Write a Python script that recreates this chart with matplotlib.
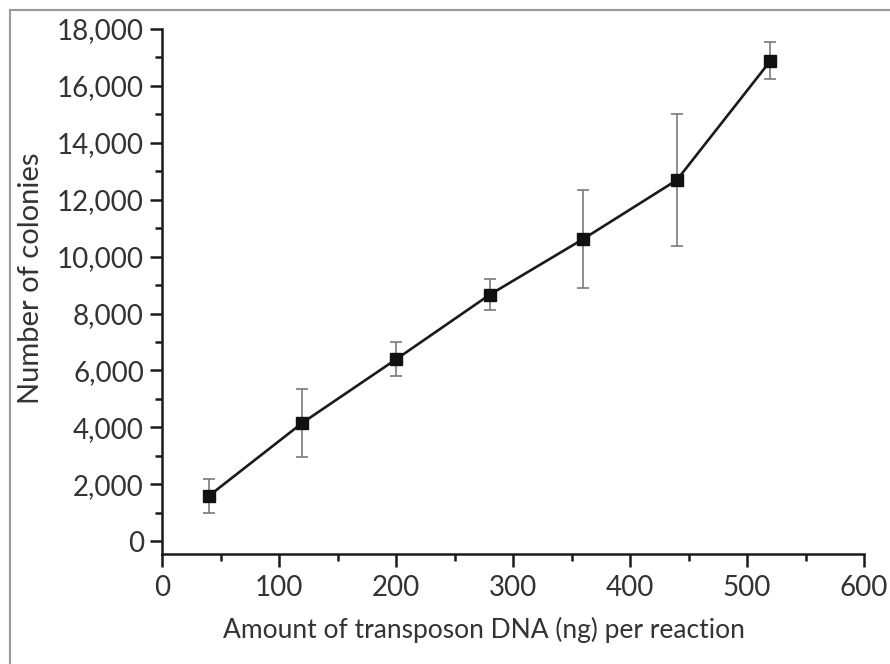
import matplotlib
matplotlib.use("Agg")
import matplotlib.pyplot as plt
from matplotlib.ticker import MultipleLocator, FuncFormatter
from matplotlib.lines import Line2D

plt.rcParams['font.family'] = ['Lato', 'DejaVu Sans']

dna_ng = [40, 120, 200, 280, 360, 440, 520]
colonies = [1590, 4160, 6390, 8660, 10620, 12690, 16880]
errors = [600, 1200, 600, 550, 1710, 2320, 650]

W, H = 890, 664
fig = plt.figure(figsize=(W / 100, H / 100), dpi=100)
ax = fig.add_axes([162 / W, 1 - 554 / H, (864 - 162) / W, (554 - 29) / H])

ax.errorbar(dna_ng, colonies, yerr=errors, fmt='none', ecolor='#7a7a7a',
            elinewidth=1.2, capsize=4.5, capthick=1.2, zorder=2)
ax.plot(dna_ng, colonies, color='#1a1a1a', lw=1.9, marker='s', markersize=8.5,
        markerfacecolor='#111111', markeredgecolor='#111111', zorder=3)

ax.set_xlim(0, 600)
ax.set_ylim(-450, 18000)
ax.xaxis.set_major_locator(MultipleLocator(100))
ax.xaxis.set_minor_locator(MultipleLocator(50))
ax.yaxis.set_major_locator(MultipleLocator(2000))
ax.yaxis.set_minor_locator(MultipleLocator(1000))
ax.yaxis.set_major_formatter(FuncFormatter(lambda v, p: f"{int(v):,}"))

for s in ['top', 'right']:
    ax.spines[s].set_visible(False)
for s in ['left', 'bottom']:
    ax.spines[s].set_linewidth(1.8)
    ax.spines[s].set_color('#1a1a1a')

ax.tick_params(axis='both', which='major', length=9, width=1.8, color='#1a1a1a',
               labelsize=20, labelcolor='#333333', pad=4)
ax.tick_params(axis='both', which='minor', length=5, width=1.8, color='#1a1a1a')
ax.tick_params(axis='x', which='major', pad=6)

ax.set_xlabel('Amount of transposon DNA (ng) per reaction', fontsize=19,
              color='#333333')
ax.xaxis.set_label_coords((484 - 162) / (864 - 162), 1 - (630 - 29) / (554 - 29))
ax.xaxis.label.set_va('center')
ax.set_ylabel('Number of colonies', fontsize=21, color='#333333')
ax.yaxis.set_label_coords((31 - 162) / (864 - 162), 1 - (278 - 29) / (554 - 29))
ax.yaxis.label.set_va('center')

# outer grey frame (top and left edges visible)
fig.add_artist(Line2D([10 / W, 10 / W], [0, 1 - 10 / H], transform=fig.transFigure,
                      color='#9a9a9a', lw=1.5))
fig.add_artist(Line2D([10 / W, 1], [1 - 10 / H, 1 - 10 / H], transform=fig.transFigure,
                      color='#9a9a9a', lw=1.5))

fig.savefig('out.png', dpi=100)
